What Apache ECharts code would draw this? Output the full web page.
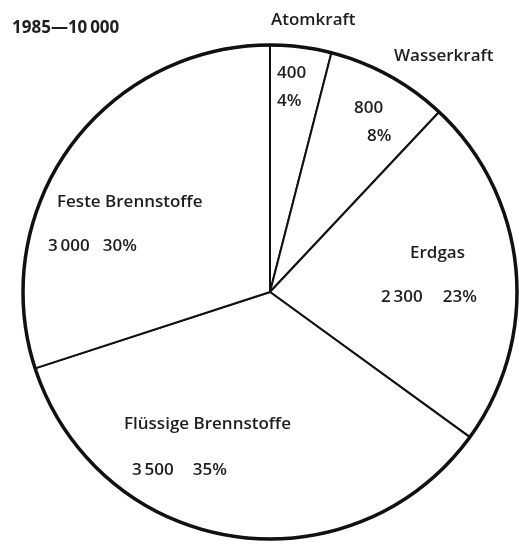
<!DOCTYPE html>
<html>
<head>
<meta charset="utf-8">
<script src="https://cdn.jsdelivr.net/npm/echarts@6/dist/echarts.min.js"></script>
<style>
  html, body { margin: 0; padding: 0; background: #fff; }
  #chart { width: 519px; height: 545px; }
</style>
</head>
<body>
<div id="chart"></div>
<script>
// Energy consumption 1985, total 10 000 units
const titleText = '1985\u201410\u2009000';
const categories = ['Atomkraft', 'Wasserkraft', 'Erdgas', 'Fl\u00fcssige Brennstoffe', 'Feste Brennstoffe'];
const values = [400, 800, 2300, 3500, 3000];

// label placement (left x, middle y) for names and for value/percent blocks
const nameSpots = [[271, 20], [394, 56], [410, 253], [124, 424], [57, 202]];
const valueSpots = [[277, 87], [354, 122], [381, 297], [132, 470], [48, 246]];
const stacked = [true, true, false, false, false];   // value above percent
const pctIndent = [0, 13, 0, 0, 0];
const pctGap = [0, 0, 20, 19, 13];

const FONT = '"Open Sans", sans-serif';
const INK = '#1e1e1e';
const FS = 17;
const FW = 600;
const total = values.reduce((a, b) => a + b, 0);

function fmtNum(v) {
  const s = String(v);
  return s.length > 3 ? s.slice(0, -3) + '\u2009' + s.slice(-3) : s;
}

const data = categories.map((c, i) => ({ name: c, value: values[i] }));
const center = [270, 292];
const radius = 247;

const txt = { fontFamily: FONT, fontSize: FS, fontWeight: FW, color: INK };

const rich = { n: Object.assign({ lineHeight: 28 }, txt) };
categories.forEach((c, i) => {
  rich['p' + i] = Object.assign({ lineHeight: 28, padding: [0, 0, 0, pctIndent[i]] }, txt);
  rich['g' + i] = Object.assign({ padding: [0, 0, 0, pctGap[i]] }, txt);
});

const chart = echarts.init(document.getElementById('chart'), null, { renderer: 'canvas' });
chart.setOption({
  backgroundColor: '#fff',
  animation: false,
  title: {
    text: titleText,
    left: 7, top: 15,
    textStyle: { fontFamily: FONT, fontSize: 17, fontWeight: 'bold', color: INK }
  },
  series: [
    {
      // slices with value / percent labels
      type: 'pie',
      center: center,
      radius: radius,
      startAngle: 90,
      clockwise: true,
      silent: true,
      data: data,
      itemStyle: { color: '#fff', borderColor: '#111', borderWidth: 2 },
      labelLine: { show: false },
      label: Object.assign({
        show: true,
        position: 'inside',
        formatter: function (p) {
          const i = p.dataIndex;
          const n = fmtNum(p.value);
          const pct = Math.round(p.value / total * 100) + '%';
          if (stacked[i]) {
            return '{n|' + n + '}\n{p' + i + '|' + pct + '}';
          }
          return '{n|' + n + '}{g' + i + '|' + pct + '}';
        },
        rich: rich
      }, txt),
      labelLayout: function (p) {
        const s = valueSpots[p.dataIndex];
        return { x: s[0], y: s[1], align: 'left', verticalAlign: 'middle' };
      }
    },
    {
      // category names
      type: 'pie',
      center: center,
      radius: radius,
      startAngle: 90,
      clockwise: true,
      silent: true,
      data: data,
      z: 3,
      itemStyle: { color: 'rgba(0,0,0,0)', borderWidth: 0 },
      labelLine: { show: false },
      label: Object.assign({
        show: true,
        position: 'inside',
        formatter: '{b}'
      }, txt),
      labelLayout: function (p) {
        const s = nameSpots[p.dataIndex];
        return { x: s[0], y: s[1], align: 'left', verticalAlign: 'middle' };
      }
    },
    {
      // heavier outer rim
      type: 'pie',
      center: center,
      radius: radius,
      silent: true,
      z: 4,
      data: [{ name: 'Summe', value: total }],
      itemStyle: { color: 'rgba(0,0,0,0)', borderColor: '#111', borderWidth: 3.5 },
      label: { show: false },
      labelLine: { show: false }
    }
  ]
});
</script>
</body>
</html>
